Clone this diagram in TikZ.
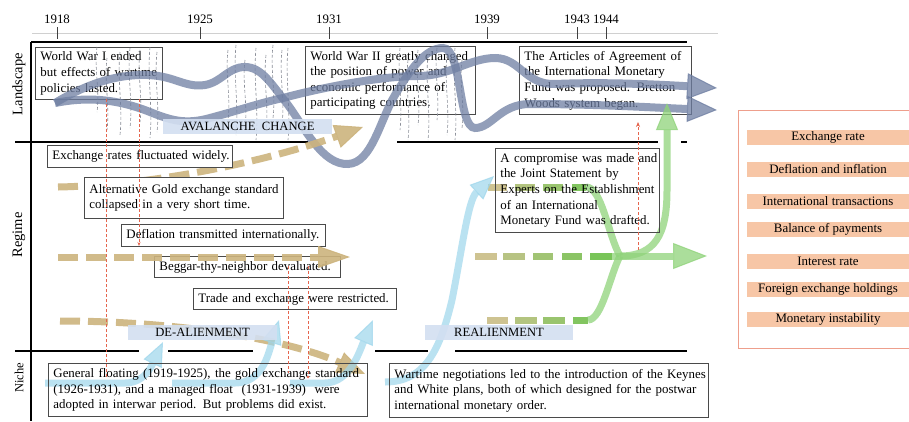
\documentclass[tikz,border=0pt]{standalone}
\usepackage{fontspec}
\setmainfont{Liberation Serif}
\usetikzlibrary{arrows.meta}
\definecolor{boxc}{HTML}{4A4A4A}
\definecolor{lcur}{HTML}{6E7EA2}
\definecolor{tanc}{HTML}{CDB47E}
\definecolor{gtan}{HTML}{C9BD86}
\definecolor{gdark}{HTML}{66BF45}
\definecolor{grn}{HTML}{8FD37A}
\definecolor{bluc}{HTML}{9DD6EC}
\definecolor{labf}{HTML}{D3DFF1}
\definecolor{redc}{HTML}{E5654E}
\definecolor{grayd}{HTML}{8A8E98}
\definecolor{legf}{HTML}{F7C6A6}
\definecolor{legb}{HTML}{EE9F8C}
\definecolor{tlc}{HTML}{D0D0D0}
\newcommand\fsz{\fontsize{12.9}{15.6}\selectfont}
\newcommand\Ln[1]{\mbox{#1}}
\tikzset{
  tbox/.style={draw=boxc, line width=0.9pt, align=left, anchor=north west, inner xsep=5pt, inner ysep=2pt, font=\fsz},
  lab/.style={fill=labf, opacity=0.9, text opacity=1, inner sep=0pt, font=\fontsize{12.6}{14}\selectfont},
  frame/.style={line width=2pt, draw=black},
  sepl/.style={line width=1.8pt, draw=black},
  tickl/.style={line width=1pt, draw=black!75},
  yrl/.style={font=\fsz, inner sep=0pt},
  gdl/.style={draw=grayd, line width=0.6pt, dash pattern=on 3pt off 2pt},
  lcurve/.style={draw=lcur, line width=8pt, opacity=0.75, -{Triangle[width=26pt,length=30pt,line width=1pt]}},
  tanarr/.style={draw=tanc, line width=7pt, dash pattern=on 20pt off 8pt, opacity=0.9},
  gdsh/.style={line width=7pt, opacity=0.9},
  gline/.style={draw=grn, line width=7pt, opacity=0.75},
  barr/.style={draw=bluc, line width=7pt, opacity=0.7, -{Triangle[width=20pt,length=24pt,line width=1pt]}},
  rdash/.style={draw=redc, line width=0.8pt, dash pattern=on 3pt off 2pt},
  legbar/.style={fill=legf, inner sep=0pt, minimum width=162pt, minimum height=15pt, font=\fsz},
  axl/.style={rotate=90, inner sep=0pt}
}
\begin{document}
\begin{tikzpicture}[x=1pt,y=-1pt]
\useasboundingbox (0,0) rectangle (909,421);
\fill[white] (0,0) rectangle (909,421);

% timeline
\draw[draw=tlc, line width=0.8pt] (32,33) -- (718,33);
\foreach \yr/\xx in {1918/57,1925/200,1931/329,1939/487,1943/577,1944/606}{
  \draw[tickl] (\xx,27) -- (\xx,39);
  \node[yrl] (yr\yr) at (\xx,19) {\yr};
}

% frame
\draw[frame] (31,42) -- (687,42);
\draw[frame] (31,42) -- (31,421);
\draw[sepl] (15,142) -- (308,142) (397,142) -- (658,142) (681,142) -- (687,142);
\draw[sepl] (15,351) -- (139,351) (168,351) -- (253,351) (375,351) -- (428,351) (455,351) -- (687,351);

% landscape boxes
\node[tbox, fill=white, text width=117pt, minimum height=52pt] (l1) at (35,47)
  {\Ln{World War I ended}\\\Ln{but effects of wartime}\\\Ln{policies lasted.}};
\node[tbox, fill=white, text width=160pt, minimum height=68pt] (l2) at (305,46)
  {\Ln{World War II greatly changed}\\\Ln{the position of power and}\\\Ln{economic performance of}\\\Ln{participating countries.}};
\node[tbox, fill=white, text width=162pt, minimum height=68pt] (l3) at (519,46)
  {\Ln{The Articles of Agreement of}\\\Ln{the International Monetary}\\\Ln{Fund was proposed. Bretton}\\\Ln{Woods system began.}};

% thin dashed pressure lines
\foreach \gx/\ga/\gb in {97/47/112,107/58/130,120/52/135,130/48/128,140/50/122,150/47/138,157/52/132,
  228/50/120,236/45/135,245/60/128,256/48/140,266/55/130,273/45/118,282/50/125,288/48/140,
  400/48/130,408/60/140,418/50/125,428/55/140,437/48/120,447/55/135,455/48/140,462/60/128}
  \draw[gdl] (\gx,\ga) .. controls ({\gx-3},{\ga+(\gb-\ga)/3}) and ({\gx+3},{\ga+2*(\gb-\ga)/3}) .. (\gx,\gb);

% landscape curves
\coordinate (ls) at (55,103);
\coordinate (lu) at (717,88);
\coordinate (ll) at (717,110);
\draw[lcurve] (ls) .. controls (90,96) and (120,100) .. (150,112)
  .. controls (170,120) and (185,125) .. (210,118)
  .. controls (240,110) and (260,103) .. (283,98)
  .. controls (320,88) and (380,76) .. (418,76)
  .. controls (450,76) and (470,58) .. (495,58)
  .. controls (520,58) and (525,85) .. (555,84)
  .. controls (600,82) and (650,84) .. (lu);
\draw[lcurve] (ls) .. controls (85,85) and (115,74) .. (148,75)
  .. controls (175,76) and (185,88) .. (205,85)
  .. controls (222,82) and (228,67) .. (245,67)
  .. controls (262,67) and (272,85) .. (288,105)
  .. controls (305,128) and (322,165) .. (348,164)
  .. controls (372,163) and (380,120) .. (395,95)
  .. controls (410,70) and (425,48) .. (443,48)
  .. controls (462,48) and (458,128) .. (475,128)
  .. controls (492,128) and (500,104) .. (530,104)
  .. controls (600,104) and (660,108) .. (ll);

\node[lab, minimum width=169pt, minimum height=15pt] (aval) at (247.5,126.5) {AVALANCHE\ \ CHANGE};

% tan arrows (behind boxes)
\coordinate (t1s) at (58,187); \coordinate (t1e) at (363,127);
\coordinate (t3s) at (60,321); \coordinate (t3e) at (365,374);
\draw[tanarr, -{Triangle[width=24pt,length=28pt,line width=1pt]}] (t1s) .. controls (160,185) and (270,160) .. (t1e);
\draw[tanarr, -{Triangle[width=22pt,length=28pt,line width=1pt]}] (t3s) .. controls (180,321) and (290,340) .. (t3e);

% regime boxes
\node[tbox, fill=white, text width=175pt, minimum height=22pt] (r1) at (47,145) {\Ln{Exchange rates fluctuated widely.}};
\node[tbox, fill=white, text width=189pt, minimum height=41pt] (r2) at (84,177) {\Ln{Alternative Gold exchange standard}\\\Ln{collapsed in a very short time.}};
\node[tbox, fill=white, text width=194pt, minimum height=22pt] (r3) at (121,224) {\Ln{Deflation transmitted internationally.}};
\node[tbox, fill=white, text width=176pt, minimum height=21pt] (r4) at (154,256) {\Ln{Beggar-thy-neighbor devaluated.}};
\node[tbox, fill=white, text width=193pt, minimum height=21pt] (r5) at (193,288) {\Ln{Trade and exchange were restricted.}};

\coordinate (t2s) at (58,257); \coordinate (t2e) at (350,257);
\draw[tanarr, -{Triangle[width=22pt,length=32pt,line width=1pt]}] (t2s) -- (t2e);

% green dashes and lines
\foreach \ga/\gb/\gp in {488/507/100,515/535/70,543/563/40,572/586/15}
  \draw[gdsh, draw=gtan!\gp!gdark] (\ga,187) -- (\gb,187);
\foreach \ga/\gb/\gp in {475/497/100,503/525/75,533/553/50,562/582/25,590/612/5}
  \draw[gdsh, draw=gtan!\gp!gdark] (\ga,256) -- (\gb,256);
\foreach \ga/\gb/\gp in {487/508/100,515/537/70,543/565/40,573/588/15}
  \draw[gdsh, draw=gtan!\gp!gdark] (\ga,320) -- (\gb,320);
\coordinate (gj) at (620,256);
\coordinate (g1) at (586,187);
\coordinate (g3) at (588,320);
\coordinate (g2) at (612,256);
\coordinate (gr) at (707,256);
\coordinate (gu) at (667,103);
\draw[gline] (g1) .. controls (602,187) and (608,235) .. (gj);
\draw[gline] (g3) .. controls (602,320) and (610,275) .. (gj);
\draw[gline, -{Triangle[width=26pt,length=34pt,line width=1pt]}] (g2) -- (gr);
\draw[gline, -{Triangle[width=22pt,length=27pt,line width=1pt]}] (gj) .. controls (655,256) and (667,235) .. (667,190) -- (gu);

\node[tbox, text width=154pt, minimum height=84pt] (r6) at (495,148)
  {\Ln{A compromise was made and}\\\Ln{the Joint Statement by}\\\Ln{Experts on the Establishment}\\\Ln{of an International}\\\Ln{Monetary Fund was drafted.}};

% light blue niche arrows
\coordinate (b1s) at (45,383); \coordinate (b1e) at (163,342);
\coordinate (b2s) at (172,383); \coordinate (b2e) at (279,320);
\coordinate (b3s) at (290,383); \coordinate (b3e) at (373,320);
\coordinate (b4s) at (385,382); \coordinate (b4e) at (494,176);
\draw[barr] (b1s) -- (125,383) .. controls (145,383) and (152,365) .. (b1e);
\draw[barr] (b2s) -- (235,383) .. controls (262,383) and (268,355) .. (b2e);
\draw[barr] (b3s) -- (325,383) .. controls (350,383) and (360,350) .. (b3e);
\draw[barr] (b4s) .. controls (425,382) and (440,350) .. (452,300) .. controls (462,250) and (468,200) .. (b4e);

\node[lab, minimum width=149pt, minimum height=15pt] (deal) at (202.5,332.5) {DE-ALIENMENT};
\node[lab, minimum width=148pt, minimum height=15pt] (real) at (499,332.5) {REALIENMENT};

% niche boxes
\node[tbox, text width=309pt, minimum height=53pt] (n1) at (48,363)
  {\Ln{General floating (1919-1925), the gold exchange standard}\\\Ln{(1926-1931), and a managed float\ \ (1931-1939)\ \ were}\\\Ln{adopted in interwar period. But problems did exist.}};
\node[tbox, text width=309pt, minimum height=54pt] (n2) at (389,363)
  {\Ln{Wartime negotiations led to the introduction of the Keynes}\\\Ln{and White plans, both of which designed for the postwar}\\\Ln{international monetary order.}};

% red dashed links
\draw[rdash] (106,377) -- (106,99);
\draw[rdash, -{Stealth[length=4pt,width=3pt]}] (139,99) -- (139,246);
\draw[rdash] (288,266) -- (288,373);
\draw[rdash] (308,266) -- (308,377);
\fill[redc] (308,377) circle (1.3pt);
\draw[rdash, -{Stealth[length=5pt,width=4pt]}] (638,250) -- (638,122);

% legend
\draw[draw=legb, line width=0.8pt] (738,110) rectangle (915,348);
\foreach \yy/\tt/\nm in {137/Exchange rate/1,169/Deflation and inflation/2,201/International transactions/3,
  229/Balance of payments/4,261/Interest rate/5,289/Foreign exchange holdings/6,319/Monetary instability/7}
  \node[legbar] (leg\nm) at (828,\yy) {\tt};

% level labels
\node[axl, font=\fontsize{14.5}{16}\selectfont] (lland) at (19,84) {Landscape};
\node[axl, font=\fontsize{14.5}{16}\selectfont] (lreg) at (19,235) {Regime};
\node[axl, font=\fontsize{12.5}{14}\selectfont] (lniche) at (19,378) {Niche};
\end{tikzpicture}
\end{document}
